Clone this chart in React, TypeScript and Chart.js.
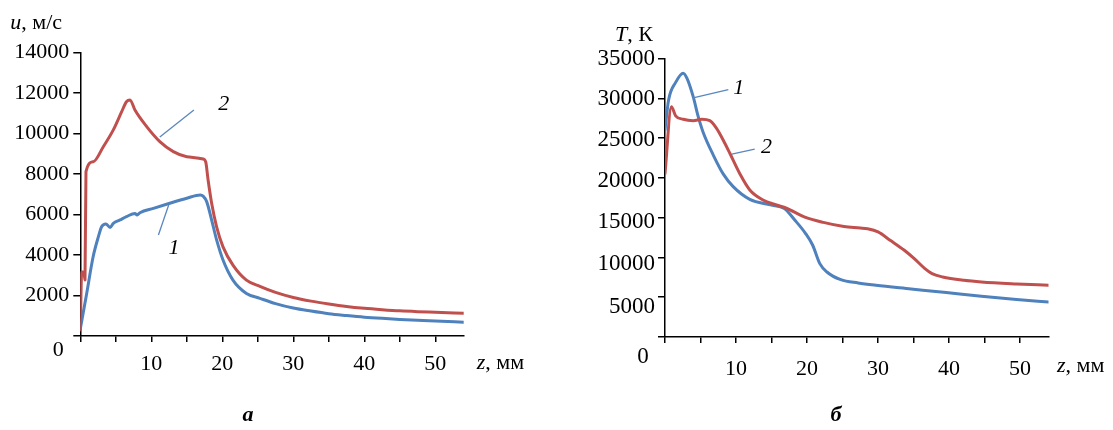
import React, { useEffect, useRef } from 'react';
import { Chart, registerables } from 'chart.js';

Chart.register(...registerables);

const FONT = '"Liberation Serif", "Times New Roman", serif';
const RED = '#C0504D';
const BLUE = '#4F81BD';
const LEADER = '#5A87BF';

// ---- Chart "а": velocity u, m/s vs z, mm ----
const zU1 = [0, 0.9, 1.8, 2.55, 3.0, 3.6, 4.2, 4.65, 5.6, 6.5, 7.7, 8.0, 8.4, 10.3, 12.6, 15.0, 16.9, 17.3, 17.8, 18.5, 19.2, 20.1, 21.5, 23.4, 25.3, 27.5, 30, 32.5, 35, 37.5, 40, 42.5, 45, 47.5, 50, 54];
const u1 = [350, 2100, 3900, 4900, 5390, 5530, 5360, 5560, 5730, 5890, 6050, 5970, 6085, 6300, 6550, 6800, 6960, 6900, 6630, 5720, 4740, 3750, 2760, 2100, 1860, 1600, 1380, 1230, 1100, 1010, 930, 870, 820, 780, 740, 680];
const zU2 = [0, 0.2, 0.52, 0.66, 0.8, 1.83, 3.24, 4.65, 5.83, 6.5, 7.0, 7.7, 9.35, 11.2, 13.1, 15.0, 17.3, 17.66, 18.0, 18.5, 19.2, 20.1, 21.5, 23.4, 25.3, 27.5, 30, 32.5, 35, 37.5, 40, 42.5, 45, 47.5, 50, 54];
const u2 = [300, 3170, 3120, 2760, 8110, 8600, 9340, 10170, 11070, 11560, 11650, 11150, 10330, 9590, 9100, 8850, 8735, 8600, 7700, 6550, 5390, 4400, 3500, 2760, 2450, 2150, 1900, 1720, 1580, 1460, 1370, 1300, 1240, 1200, 1170, 1120];

// ---- Chart "б": temperature T, K vs z, mm ----
const zT1 = [0, 0.5, 1.5, 2.57, 3.1, 3.97, 4.68, 5.38, 6.78, 8.19, 9.6, 11.94, 14.85, 16.8, 18.3, 19.8, 20.8, 21.8, 22.8, 24.75, 27.2, 29.7, 34.65, 39.6, 44.55, 49.5, 54];
const T1 = [26000, 29760, 32000, 33150, 32500, 30200, 27690, 25700, 22900, 20500, 18900, 17300, 16600, 16150, 14670, 13000, 11530, 9220, 8170, 7210, 6790, 6500, 6040, 5580, 5110, 4700, 4400];
const zT2 = [0, 0.9, 1.5, 2.57, 3.97, 5.2, 6.3, 7.26, 8.19, 9.13, 10.5, 11.94, 13.8, 15.7, 17.1, 19.6, 22.3, 25.2, 27.5, 28.5, 30, 31.7, 33.7, 35.1, 36.6, 37.6, 39.1, 42.1, 44.55, 49.5, 54];
const T2 = [20540, 28950, 27800, 27360, 27190, 27360, 27190, 26230, 24760, 23090, 20580, 18480, 17220, 16590, 16180, 15100, 14400, 13880, 13700, 13600, 13200, 12160, 10900, 9850, 8590, 7960, 7550, 7130, 6920, 6670, 6500];

// tick label texts
const xTickLabels = [10, 20, 30, 40, 50];
const uTicks = [2000, 4000, 6000, 8000, 10000, 12000, 14000];
const TTicks = [5000, 10000, 15000, 20000, 25000, 30000, 35000];
// downward drift of the T tick labels in the original (px)
const TLabelShift: Record<number, number> = { 5000: 10, 10000: 7, 15000: 4.5, 20000: 3.5, 25000: 2, 30000: 1, 35000: 0 };

const pts = (xs: number[], ys: number[]) => xs.map((x, i) => ({ x, y: ys[i] }));

const extrasPlugin = {
  id: 'extras',
  afterDraw(chart: any, _args: any, o: any) {
    const { ctx, chartArea: a } = chart;
    const xs = chart.scales.x;
    const ys = chart.scales.y;
    ctx.save();
    // leader lines
    ctx.strokeStyle = LEADER;
    ctx.lineWidth = 1.3;
    for (const l of o.leaders) {
      ctx.beginPath();
      ctx.moveTo(xs.getPixelForValue(l.x1), ys.getPixelForValue(l.y1));
      ctx.lineTo(xs.getPixelForValue(l.x2), ys.getPixelForValue(l.y2));
      ctx.stroke();
    }
    ctx.fillStyle = '#000';
    ctx.textBaseline = 'middle';
    // curve tags
    ctx.textAlign = 'center';
    ctx.font = `italic ${o.size}px ${FONT}`;
    for (const t of o.tags) {
      ctx.fillText(t.text, xs.getPixelForValue(t.x), ys.getPixelForValue(t.y));
    }
    // zero label
    ctx.font = `${o.zero.size}px ${FONT}`;
    ctx.fillText('0', a.left + o.zero.dx, a.bottom + o.zero.dy);
    // axis titles (italic symbol + regular unit)
    ctx.textAlign = 'left';
    const title = (t: any, x: number, y: number) => {
      ctx.font = `italic ${t.size}px ${FONT}`;
      ctx.fillText(t.sym, x, y);
      const w = ctx.measureText(t.sym).width;
      ctx.font = `${t.size}px ${FONT}`;
      ctx.fillText(t.unit, x + w, y);
    };
    title(o.yTitle, a.left + o.yTitle.dx, a.top + o.yTitle.dy);
    title(o.xTitle, a.right + o.xTitle.dx, a.bottom + o.xTitle.dy);
    // caption
    ctx.textAlign = 'center';
    ctx.font = `italic bold ${o.caption.size}px ${FONT}`;
    ctx.fillText(o.caption.text, o.caption.x, o.caption.y);
    ctx.restore();
  },
};

function makeConfig(p: any) {
  return {
    type: 'line',
    data: {
      datasets: [
        { label: '2', data: p.d2, borderColor: RED, borderWidth: 3, pointRadius: 0, cubicInterpolationMode: 'monotone', order: 1, borderJoinStyle: 'round', borderCapStyle: 'round' },
        { label: '1', data: p.d1, borderColor: BLUE, borderWidth: 3, pointRadius: 0, cubicInterpolationMode: 'monotone', order: 2, borderJoinStyle: 'round', borderCapStyle: 'round' },
      ],
    },
    plugins: [extrasPlugin],
    options: {
      responsive: false,
      animation: false,
      layout: { padding: p.padding },
      plugins: {
        legend: { display: false },
        tooltip: { enabled: false },
        extras: p.extras,
      },
      scales: {
        x: {
          type: 'linear',
          min: 0,
          max: 54,
          afterFit: (s: any) => { s.height = p.xHeight; },
          border: { display: true, color: '#000', width: 1.5 },
          grid: { drawOnChartArea: false, drawTicks: true, tickLength: 6, color: '#000', lineWidth: 1.5 },
          ticks: {
            stepSize: 5,
            includeBounds: false,
            autoSkip: false,
            maxRotation: 0,
            padding: p.xPad,
            color: '#000',
            font: { family: FONT, size: p.xFont },
            callback: (v: number) => (xTickLabels.includes(v) ? String(v) : ''),
          },
        },
        y: {
          type: 'linear',
          min: 0,
          max: p.yMax,
          afterFit: (s: any) => { s.width = p.yWidth; },
          border: { display: true, color: '#000', width: 1.5 },
          grid: { drawOnChartArea: false, drawTicks: true, tickLength: p.yTick, color: '#000', lineWidth: 1.5 },
          ticks: {
            stepSize: p.yStep,
            autoSkip: false,
            padding: p.yPad,
            color: '#000',
            font: p.yFontFn,
            callback: p.yCallback,
          },
        },
      },
    },
  };
}

function ChartCanvas({ cfg, left, width }: { cfg: any; left: number; width: number }) {
  const ref = useRef<HTMLCanvasElement>(null);
  useEffect(() => {
    const chart = new Chart(ref.current as HTMLCanvasElement, cfg);
    return () => chart.destroy();
  }, []);
  return (
    <canvas
      ref={ref}
      width={width}
      height={430}
      style={{ position: 'absolute', left, top: 0, width, height: 430 }}
    />
  );
}

const cfgU = makeConfig({
  d1: pts(zU1, u1),
  d2: pts(zU2, u2),
  padding: { left: 0, top: 52.3, right: 92.3, bottom: 0 },
  xHeight: 94,
  yWidth: 80.3,
  yMax: 14000,
  yStep: 2000,
  yTick: 7,
  yPad: 4,
  xPad: 9,
  xFont: 22,
  yFontFn: { family: FONT, size: 22 },
  yCallback: (v: number) => (uTicks.includes(v) ? String(v) : ''),
  extras: {
    size: 22,
    leaders: [
      { x1: 11.2, y1: 9820, x2: 16.0, y2: 11150 },
      { x1: 11.0, y1: 4985, x2: 12.45, y2: 6465 },
    ],
    tags: [
      { text: '2', x: 20.2, y: 11450 },
      { text: '1', x: 13.2, y: 4330 },
    ],
    zero: { dx: -22, dy: 14, size: 22 },
    yTitle: { sym: 'u', unit: ', м/с', dx: -70, dy: -29, size: 22 },
    xTitle: { sym: 'z', unit: ', мм', dx: 13, dy: 27, size: 22 },
    caption: { text: 'а', x: 248, y: 415, size: 22 },
  },
});

const cfgT = makeConfig({
  d1: pts(zT1, T1),
  d2: pts(zT2, T2),
  padding: { left: 0, top: 58.5, right: 64.5, bottom: 0 },
  xHeight: 93,
  yWidth: 109,
  yMax: 35000,
  yStep: 5000,
  yTick: 7,
  yPad: 3,
  xPad: 13,
  xFont: 22,
  yFontFn: (c: any) => {
    const v = c && c.tick ? c.tick.value : 0;
    const s = TLabelShift[v] || 0;
    return { family: FONT, size: 23, lineHeight: `${(2 * s).toFixed(1)}px` };
  },
  yCallback: (v: number) => {
    if (!TTicks.includes(v)) return '';
    return (TLabelShift[v] || 0) > 0 ? ['', String(v)] : String(v);
  },
  extras: {
    size: 22,
    leaders: [
      { x1: 3.96, y1: 30050, x2: 8.92, y2: 31100 },
      { x1: 9.41, y1: 22970, x2: 12.63, y2: 23600 },
    ],
    tags: [
      { text: '1', x: 10.4, y: 31230 },
      { text: '2', x: 14.3, y: 23890 },
    ],
    zero: { dx: -22, dy: 20, size: 23 },
    yTitle: { sym: 'T', unit: ', К', dx: -50, dy: -23.5, size: 22 },
    xTitle: { sym: 'z', unit: ', мм', dx: 8.5, dy: 29, size: 22 },
    caption: { text: 'б', x: 280, y: 415, size: 22 },
  },
});

export default function App() {
  return (
    <div style={{ position: 'absolute', left: 0, top: 0, width: 1113, height: 430, background: '#fff', overflow: 'hidden' }}>
      <ChartCanvas cfg={cfgU} left={0} width={556} />
      <ChartCanvas cfg={cfgT} left={556} width={557} />
    </div>
  );
}
